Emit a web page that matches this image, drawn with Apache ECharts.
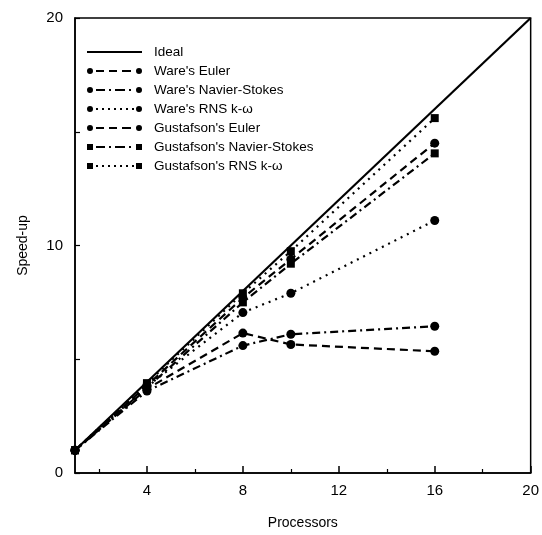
<!DOCTYPE html>
<html>
<head>
<meta charset="utf-8">
<script src="https://cdn.jsdelivr.net/npm/echarts@6/dist/echarts.min.js"></script>
<style>html,body{margin:0;padding:0;background:#fff;}#c{width:542px;height:535px;}</style>
</head>
<body>
<div id="c"></div>
<script>
// ---- data ----
const processors = [1, 4, 8, 10, 16];
const idealX = [1, 20];
const idealY = [1, 20];
const waresEuler = [1, 3.7, 6.15, 5.65, 5.35];
const waresNS = [1, 3.6, 5.6, 6.1, 6.45];
const waresRNS = [1, 3.8, 7.05, 7.9, 11.1];
const gustEuler = [1, 3.85, 7.7, 9.4, 14.5];
const gustNS = [1, 3.75, 7.5, 9.2, 14.05];
const gustRNS = [1, 3.95, 7.9, 9.75, 15.6];
const xTickLabels = [4, 8, 12, 16, 20];
const xMinorTicks = [2, 6, 10, 14, 18];
const yTickLabels = [0, 10, 20];

const names = ["Ideal", "Ware's Euler", "Ware's Navier-Stokes", "Ware's RNS k-\u03c9",
  "Gustafson's Euler", "Gustafson's Navier-Stokes", "Gustafson's RNS k-\u03c9"];

// ---- legend icon paths (55 x 14 box) ----
function circ(cx, cy, r) {
  return `M${cx - r},${cy} A${r},${r} 0 1 0 ${cx + r},${cy} A${r},${r} 0 1 0 ${cx - r},${cy} Z `;
}
function rect(x0, y0, x1, y1) {
  return `M${x0},${y0} L${x1},${y0} L${x1},${y1} L${x0},${y1} Z `;
}
function dashes(list) { return list.map(d => rect(d[0], 6, d[1], 8)).join(''); }
const dashSeg = [[9, 17], [22, 30], [35, 44]];
const dashDotSeg = [[9, 18], [22, 24], [28, 38], [42, 44]];
const dotSeg = [[9, 11], [15, 17], [21, 23], [27, 29], [33, 35], [39, 41], [45, 47]];
function icon(marker, seg) {
  let p = 'path://' + rect(0, 0, 0.01, 0.01) + rect(54.99, 13.99, 55, 14);
  if (marker === 'circle') p += circ(3, 7, 3) + circ(52, 7, 3);
  else if (marker === 'rect') p += rect(0, 4, 6, 10) + rect(49, 4, 55, 10);
  p += dashes(seg);
  return p;
}
const icons = [
  'path://' + rect(0, 0, 0.01, 0.01) + rect(54.99, 13.99, 55, 14) + rect(0, 6, 55, 8),
  icon('circle', dashSeg),
  icon('circle', dashDotSeg),
  icon('circle', dotSeg),
  icon('circle', dashSeg),
  icon('rect', dashDotSeg),
  icon('rect', dotSeg)
];

const black = '#000';
function zip(xs, ys) { return xs.map((x, i) => [x, ys[i]]); }
function ser(name, ys, dash, symbol) {
  return {
    name, type: 'line', data: zip(processors, ys),
    symbol, symbolSize: symbol === 'rect' ? 8 : 9,
    lineStyle: { color: black, width: 2.2, type: dash },
    itemStyle: { color: black },
    emphasis: { disabled: true }, animation: false
  };
}

const chart = echarts.init(document.getElementById('c'), null, { renderer: 'canvas' });
const font = 'Liberation Sans, Arial, Helvetica, sans-serif';
chart.setOption({
  backgroundColor: '#fff',
  animation: false,
  grid: { left: 75, right: 10, top: 18, bottom: 62, show: true, borderColor: black, borderWidth: 1.5, backgroundColor: 'transparent' },
  legend: {
    orient: 'vertical', left: 87, top: 45, padding: 0,
    itemWidth: 55, itemHeight: 14, itemGap: 5,
    data: names.map((n, i) => ({ name: n, icon: icons[i] })),
    textStyle: { fontFamily: font, fontSize: 13.5, color: black, padding: [0, 0, 0, 7] },
    selectedMode: false
  },
  xAxis: [{
    type: 'value', min: 1, max: 20, position: 'bottom',
    name: 'Processors', nameLocation: 'middle', nameGap: 43,
    nameTextStyle: { fontFamily: font, fontSize: 14, color: black },
    axisLine: { show: true, lineStyle: { color: black, width: 1.5 } },
    axisTick: { show: true, inside: true, length: 7, customValues: xTickLabels, lineStyle: { color: black, width: 1.5 } },
    axisLabel: { customValues: xTickLabels, fontFamily: font, fontSize: 15, color: black, margin: 10 },
    splitLine: { show: false }
  }, {
    type: 'value', min: 1, max: 20, position: 'bottom',
    axisLine: { show: false },
    axisTick: { show: true, inside: true, length: 4, customValues: xMinorTicks, lineStyle: { color: black, width: 1.2 } },
    axisLabel: { show: false },
    splitLine: { show: false }
  }],
  yAxis: [{
    type: 'value', min: 0, max: 20, interval: 5,
    name: 'Speed-up', nameLocation: 'middle', nameGap: 45,
    nameTextStyle: { fontFamily: font, fontSize: 14, color: black },
    axisLine: { show: true, lineStyle: { color: black, width: 1.5 } },
    axisTick: { show: true, inside: true, length: 5, lineStyle: { color: black, width: 1.2 } },
    axisLabel: { customValues: yTickLabels, fontFamily: font, fontSize: 15, color: black, margin: 12 },
    splitLine: { show: false }
  }],
  series: [
    {
      name: names[0], type: 'line', data: zip(idealX, idealY), symbol: 'none',
      lineStyle: { color: black, width: 2.2, type: 'solid' }, itemStyle: { color: black },
      emphasis: { disabled: true }
    },
    ser(names[1], waresEuler, [8, 5], 'circle'),
    ser(names[2], waresNS, [8, 4, 2, 4], 'circle'),
    ser(names[3], waresRNS, [2, 5], 'circle'),
    ser(names[4], gustEuler, [8, 5], 'circle'),
    ser(names[5], gustNS, [8, 4, 2, 4], 'rect'),
    ser(names[6], gustRNS, [2, 5], 'rect')
  ]
});
</script>
</body>
</html>
